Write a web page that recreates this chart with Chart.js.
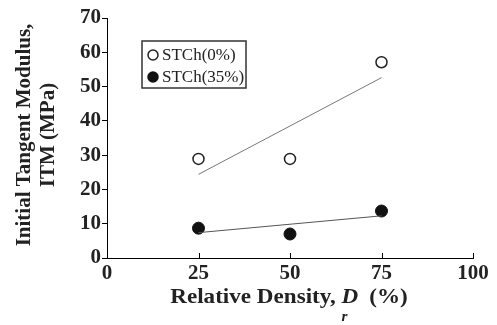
<!DOCTYPE html>
<html>
<head>
<meta charset="utf-8">
<script src="https://cdn.jsdelivr.net/npm/chart.js@4.4.0/dist/chart.umd.min.js"></script>
<style>
  html, body { margin: 0; padding: 0; background: #fff; }
  #wrap { width: 497px; height: 325px; }
</style>
</head>
<body>
<div id="wrap"><canvas id="itmChart" width="497" height="325"></canvas></div>
<script>
// relative density (%) of the tested specimens
const densities = [25, 50, 75];
// initial tangent modulus (MPa)
const itmNoChips = [28.9, 28.9, 57.1];
const itmChips35 = [8.7, 7.0, 13.7];
// trend lines, end points
const fitX = [25, 75];
const fitNoChips = [24.4, 52.6];
const fitChips35 = [7.4, 12.3];

const seriesLabels = ['STCh(0%)', 'STCh(35%)'];
const xTicks = [0, 25, 50, 75, 100];
const yTicks = [0, 10, 20, 30, 40, 50, 60, 70];
const yTitleLines = ['Initial Tangent Modulus,', 'ITM (MPa)'];

const serif = '"Liberation Serif", "Times New Roman", serif';

function toPoints(xs, ys) {
    return xs.map((x, i) => ({ x: x, y: ys[i] }));
}

// titles, legend box and the inward x ticks
const decorations = {
    id: 'decorations',
    afterDraw(chart) {
        const ctx = chart.ctx;
        const xs = chart.scales.x;
        const area = chart.chartArea;

        ctx.save();
        ctx.strokeStyle = '#000';
        ctx.lineWidth = 1;
        xTicks.forEach(v => {
            const px = Math.round(xs.getPixelForValue(v)) + 0.5;
            ctx.beginPath();
            ctx.moveTo(px, area.bottom);
            ctx.lineTo(px, area.bottom - 5);
            ctx.stroke();
        });

        // y title, two rotated lines
        ctx.fillStyle = '#222';
        ctx.textAlign = 'center';
        ctx.textBaseline = 'middle';
        ctx.font = 'bold 21px ' + serif;
        const yMid = 135;
        [25, 49].forEach((cx, i) => {
            ctx.save();
            ctx.translate(cx, yMid);
            ctx.rotate(-Math.PI / 2);
            ctx.fillText(yTitleLines[i], 0, 0);
            ctx.restore();
        });

        // x title with subscript r, slightly widened
        const part1 = 'Relative Density, ';
        const part3 = '(%)';
        const sx = 1.1;
        ctx.font = 'bold 21px ' + serif;
        const w1 = ctx.measureText(part1).width;
        const w3 = ctx.measureText(part3).width;
        ctx.font = 'bold italic 21px ' + serif;
        const wD = ctx.measureText('D').width;
        const gap = 10;
        const total = (w1 + wD + gap + w3) * sx;
        ctx.save();
        ctx.translate(289 - total / 2, 298);
        ctx.scale(sx, 1);
        let tx = 0;
        ctx.textAlign = 'left';
        ctx.font = 'bold 21px ' + serif;
        ctx.fillText(part1, tx, 0);
        tx += w1;
        ctx.font = 'bold italic 21px ' + serif;
        ctx.fillText('D', tx, 0);
        ctx.font = 'bold italic 14px ' + serif;
        ctx.fillText('r', tx, 19);
        tx += wD + gap;
        ctx.font = 'bold 21px ' + serif;
        ctx.fillText(part3, tx, 0);
        ctx.restore();

        // legend box
        ctx.fillStyle = '#fff';
        ctx.fillRect(142, 41, 104, 47);
        ctx.strokeStyle = '#333';
        ctx.lineWidth = 1.5;
        ctx.strokeRect(142, 41, 104, 47);
        const rows = [55, 77];
        const markers = [chart.data.datasets[2], chart.data.datasets[3]];
        rows.forEach((ry, i) => {
            const ds = markers[i];
            ctx.beginPath();
            ctx.arc(153, ry, 5, 0, Math.PI * 2);
            ctx.fillStyle = ds.pointBackgroundColor;
            ctx.fill();
            ctx.lineWidth = 1.5;
            ctx.strokeStyle = ds.pointBorderColor;
            ctx.stroke();
            ctx.fillStyle = '#222';
            ctx.font = '17px ' + serif;
            ctx.textAlign = 'left';
            ctx.textBaseline = 'middle';
            ctx.fillText(seriesLabels[i], 162, ry + 1);
        });
        ctx.restore();
    }
};

new Chart(document.getElementById('itmChart'), {
    type: 'scatter',
    data: {
        datasets: [
            {
                data: toPoints(fitX, fitNoChips),
                showLine: true,
                borderColor: '#777',
                borderWidth: 1,
                pointRadius: 0
            },
            {
                data: toPoints(fitX, fitChips35),
                showLine: true,
                borderColor: '#555',
                borderWidth: 1,
                pointRadius: 0
            },
            {
                label: seriesLabels[0],
                data: toPoints(densities, itmNoChips),
                pointRadius: 5.5,
                pointBorderWidth: 1.5,
                pointBackgroundColor: '#fff',
                pointBorderColor: '#222'
            },
            {
                label: seriesLabels[1],
                data: toPoints(densities, itmChips35),
                pointRadius: 6,
                pointBorderWidth: 1,
                pointBackgroundColor: '#111',
                pointBorderColor: '#111'
            }
        ]
    },
    options: {
        responsive: false,
        animation: false,
        devicePixelRatio: 1,
        layout: { padding: { left: 0, right: 24, top: 18, bottom: 0 } },
        plugins: {
            legend: { display: false },
            tooltip: { enabled: false }
        },
        scales: {
            x: {
                type: 'linear',
                min: 0,
                max: 100,
                afterBuildTicks: scale => { scale.ticks = xTicks.map(v => ({ value: v })); },
                afterFit: scale => { scale.height = 67; },
                grid: { display: true, drawOnChartArea: false, drawTicks: false, color: '#000' },
                border: { display: true, color: '#000', width: 1 },
                ticks: {
                    padding: 3,
                    color: '#222',
                    font: { family: serif, size: 21, weight: 'bold' },
                    maxRotation: 0
                }
            },
            y: {
                type: 'linear',
                min: 0,
                max: 70,
                afterBuildTicks: scale => { scale.ticks = yTicks.map(v => ({ value: v })); },
                afterFit: scale => { scale.width = 107; },
                grid: { display: true, drawOnChartArea: false, drawTicks: true, tickLength: 5, color: '#000' },
                border: { display: true, color: '#000', width: 1 },
                ticks: {
                    padding: 1,
                    color: '#222',
                    font: { family: serif, size: 21, weight: 'bold' }
                }
            }
        }
    },
    plugins: [decorations]
});
</script>
</body>
</html>
